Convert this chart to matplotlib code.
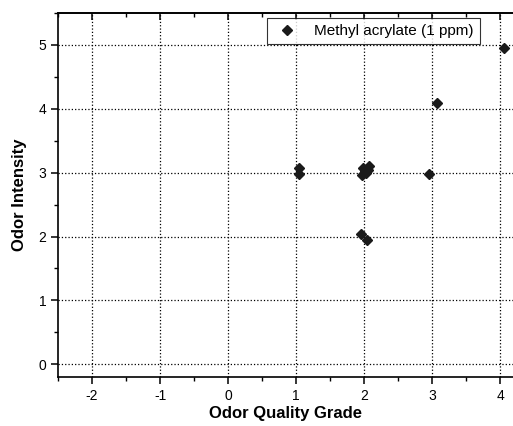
import matplotlib
matplotlib.use('Agg')
import matplotlib.pyplot as plt
from matplotlib.ticker import MultipleLocator

plt.rcParams['font.family'] = ['Liberation Sans', 'DejaVu Sans']
plt.rcParams['axes.unicode_minus'] = False

# Odor quality grade vs odor intensity
quality = [1.04, 1.04, 1.97, 1.99, 2.03, 2.06, 2.08, 2.01, 1.95, 2.05, 2.96, 3.07, 4.06]
intensity = [3.08, 2.98, 2.96, 3.08, 2.99, 3.04, 3.10, 3.02, 2.04, 1.95, 2.98, 4.09, 4.95]
series_label = 'Methyl acrylate (1 ppm)'

fig = plt.figure(figsize=(5.13, 4.26), dpi=100)
ax = fig.add_axes([58 / 513, 1 - 377 / 426, 1 - 58 / 513, (377 - 13) / 426])

ax.plot(quality, intensity, linestyle='none', marker='D', markersize=5.5,
        color='#1a1a1a', label=series_label)

ax.set_xlim(-2.5, 4.19)
ax.set_ylim(-0.2, 5.5)
ax.xaxis.set_major_locator(MultipleLocator(1))
ax.xaxis.set_minor_locator(MultipleLocator(0.5))
ax.yaxis.set_major_locator(MultipleLocator(1))
ax.yaxis.set_minor_locator(MultipleLocator(0.5))

ax.grid(True, which='major', linestyle=':', color='black', linewidth=0.9)
ax.spines['right'].set_visible(False)
for s in ['left', 'bottom', 'top']:
    ax.spines[s].set_linewidth(1.2)

ax.tick_params(axis='both', which='both', direction='out', labelsize=10)
ax.tick_params(which='major', length=5, width=1.1)
ax.tick_params(which='minor', length=3, width=1.0)

# top axis carries inward ticks only
top = ax.secondary_xaxis('top')
top.xaxis.set_major_locator(MultipleLocator(1))
top.xaxis.set_minor_locator(MultipleLocator(0.5))
top.tick_params(which='both', direction='in', labeltop=False)
top.tick_params(which='major', length=5, width=1.1)
top.tick_params(which='minor', length=3, width=1.0)
top.spines['top'].set_linewidth(1.2)

ax.set_xlabel('Odor Quality Grade', fontsize=12, fontweight='bold', labelpad=2)
ax.set_ylabel('Odor Intensity', fontsize=12, fontweight='bold', labelpad=8)

leg = ax.legend(loc='upper left', bbox_to_anchor=((267 - 58) / 455, 1 - 5 / 364),
                fontsize=11, frameon=True, fancybox=False, borderpad=0.4,
                handletextpad=0.9, handlelength=1.8, borderaxespad=0)
leg.get_frame().set_edgecolor('black')
leg.get_frame().set_linewidth(0.8)

fig.savefig('out.png', dpi=100)
